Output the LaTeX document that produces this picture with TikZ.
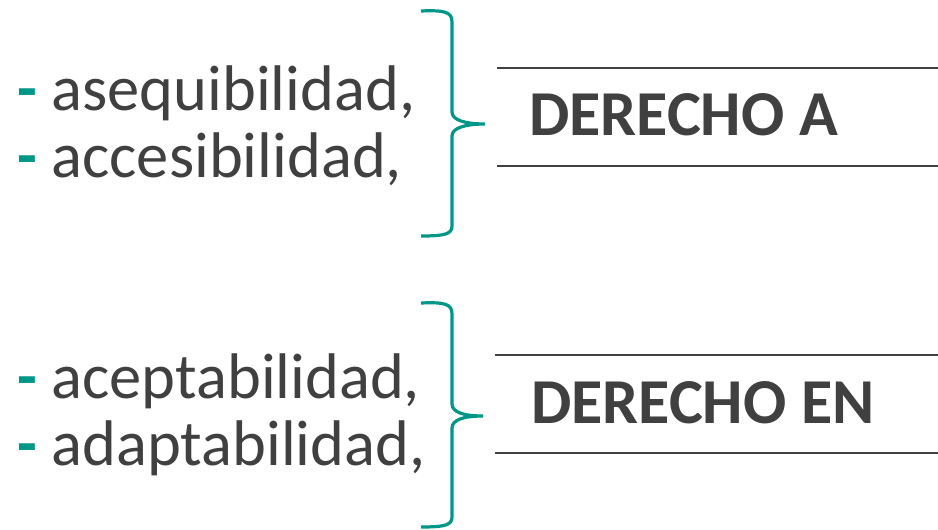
\documentclass[tikz,border=0pt]{standalone}
\usepackage{fontspec}
\setmainfont{Carlito}
\definecolor{tealc}{RGB}{0,150,136}
\definecolor{txt}{RGB}{64,64,64}
\begin{document}
\begin{tikzpicture}[x=1pt,y=-1pt,
  item/.style={anchor=base west,inner sep=0pt,text=txt,font=\fontsize{64.5}{64.5}\selectfont},
  head/.style={anchor=base west,inner sep=0pt,text=txt,font=\fontsize{64}{64}\selectfont\bfseries},
  rule/.style={draw=txt,line width=2pt},
  brace/.style={draw=tealc,line width=3.2pt}]
\useasboundingbox[fill=white] (0,0) rectangle (938,530);
% top group
\node[item] (a1) at (17,110) {{\color{tealc}\bfseries-} asequibilidad,};
\node[item] (a2) at (17,177) {{\color{tealc}\bfseries-} accesibilidad,};
\draw[brace] (421,11) .. controls (445,10) and (452,12) .. (452,22) -- (452,112)
  .. controls (452,120) and (465,124) .. (485,124)
  .. controls (465,124) and (452,128) .. (452,136) -- (452,226)
  .. controls (452,234) and (445,236) .. (421,236);
\draw[rule] (497,68) -- (938,68);
\draw[rule] (497,166) -- (938,166);
\node[head] (h1) at (529,135) {DERECHO A};
% bottom group
\node[item] (b1) at (17,398) {{\color{tealc}\bfseries-} aceptabilidad,};
\node[item] (b2) at (17,465) {{\color{tealc}\bfseries-} adaptabilidad,};
\draw[brace] (421,303) .. controls (445,302) and (452,304) .. (452,314) -- (452,404)
  .. controls (452,412) and (463,416) .. (483,416)
  .. controls (463,416) and (452,420) .. (452,428) -- (452,517)
  .. controls (452,525) and (445,527) .. (421,527);
\draw[rule] (495,355) -- (938,355);
\draw[rule] (495,453) -- (938,453);
\node[head] (h2) at (531,423) {DERECHO EN};
\end{tikzpicture}
\end{document}
